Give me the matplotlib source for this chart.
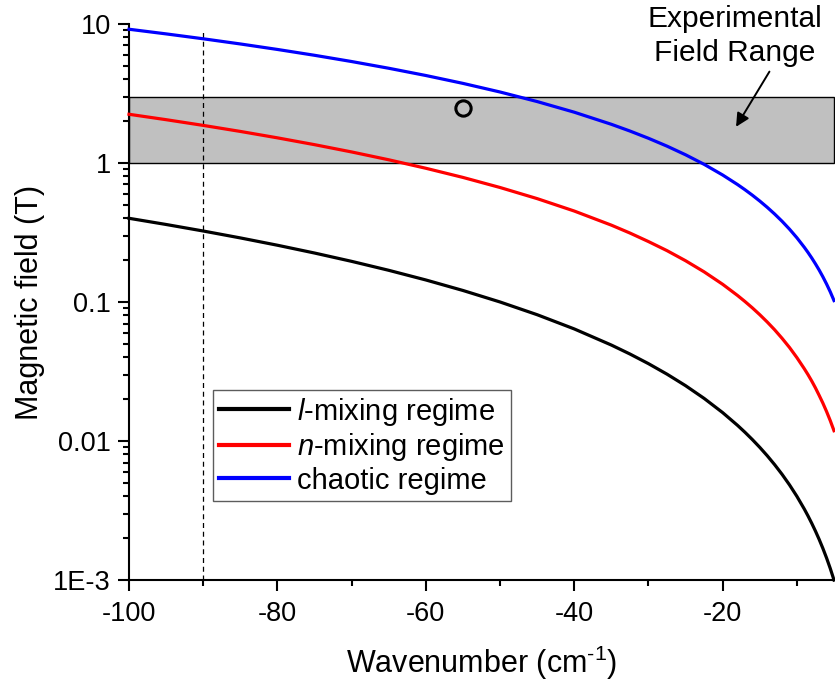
import matplotlib
matplotlib.use("Agg")
import matplotlib.pyplot as plt
from matplotlib.patches import Rectangle
from matplotlib.ticker import FixedLocator, LogLocator, FuncFormatter, MultipleLocator

plt.rcParams['font.family'] = ['Liberation Sans', 'DejaVu Sans']
plt.rcParams['mathtext.fontset'] = 'custom'
plt.rcParams['mathtext.rm'] = 'Liberation Sans'
plt.rcParams['mathtext.it'] = 'Liberation Sans:italic'
plt.rcParams['axes.unicode_minus'] = False

# Data
wavenumber = [-100, -95, -90, -85, -80, -75, -70, -65, -60, -55, -50, -45, -40, -35,
              -32.5, -30, -27.5, -25, -22.5, -20, -18, -17, -16, -15, -14, -13, -12,
              -11, -10, -9, -8.5, -8, -7.5, -7, -6.5, -6, -5.5, -5]
l_mixing = [0.400, 0.361, 0.324, 0.289, 0.256, 0.225, 0.196, 0.169, 0.144, 0.121,
            0.100, 0.081, 0.064, 0.049, 0.04225, 0.036, 0.03025, 0.025, 0.02025, 0.016,
            0.01296, 0.01156, 0.01024, 0.0090, 0.00784, 0.00676, 0.00576, 0.00484,
            0.0040, 0.00324, 0.00289, 0.00256, 0.00225, 0.00196, 0.00169, 0.00144,
            0.00121, 0.0010]
n_mixing = [2.240, 2.048, 1.863, 1.686, 1.516, 1.354, 1.200, 1.054, 0.916, 0.787,
            0.666, 0.554, 0.451, 0.357, 0.3133, 0.272, 0.2340, 0.198, 0.1647, 0.134,
            0.1114, 0.1008, 0.0907, 0.0810, 0.0718, 0.0631, 0.0548, 0.0471, 0.0398,
            0.0331, 0.0300, 0.0270, 0.0241, 0.0213, 0.01874, 0.01629, 0.0140, 0.01186]
chaotic = [9.160, 8.481, 7.821, 7.178, 6.554, 5.950, 5.365, 4.800, 4.257, 3.736,
           3.239, 2.765, 2.318, 1.897, 1.697, 1.505, 1.321, 1.145, 0.9776, 0.819,
           0.6995, 0.6421, 0.5863, 0.5321, 0.4798, 0.4293, 0.3808, 0.3342, 0.2897,
           0.2473, 0.2270, 0.2073, 0.1881, 0.1697, 0.1518, 0.1346, 0.1182, 0.1024]
series_labels = [r'$l$-mixing regime', r'$n$-mixing regime', 'chaotic regime']
series_colors = ['black', '#ff0000', '#0000ff']

band_low, band_high = 1.0, 3.0
exp_point_x, exp_point_y = [-55], [2.47]
dashed_x = -90
ytick_vals = [1e-3, 1e-2, 1e-1, 1, 10]
ytick_labels = ['1E-3', '0.01', '0.1', '1', '10']

fig = plt.figure(figsize=(8.35, 6.84), dpi=100)
ax = fig.add_axes([0.1545, 0.152, 0.8443, 0.813])

ax.set_yscale('log')
ax.set_xlim(-100, -5)
ax.set_ylim(1e-3, 10)

ax.add_patch(Rectangle((-100, band_low), 95, band_high - band_low,
                       facecolor='#c0c0c0', edgecolor='black', lw=1.0, zorder=1,
                       clip_on=False))
ax.axvline(dashed_x, ymin=0, ymax=0.99, color='black', lw=0.9, ls=(0, (4, 3)), zorder=2)

for ys, lab, col in zip([l_mixing, n_mixing, chaotic], series_labels, series_colors):
    ax.plot(wavenumber, ys, color=col, lw=2.3, label=lab, zorder=3, clip_on=False)

ax.plot(exp_point_x, exp_point_y, 'o', ms=11, mfc='none', mec='black', mew=2.2, zorder=4)

ax.text(-18.4, 8.2, 'Experimental\nField Range', ha='center', va='center',
        fontsize=21.5, linespacing=1.25, clip_on=False)
ax.annotate('', xy=(-18.2, 1.82), xytext=(-13.7, 4.54),
            arrowprops=dict(arrowstyle='-|>', color='black', lw=1.4,
                            mutation_scale=20, shrinkA=0, shrinkB=0))

for s in ['top', 'right']:
    ax.spines[s].set_visible(False)
for s in ['left', 'bottom']:
    ax.spines[s].set_linewidth(1.5)

ax.yaxis.set_major_locator(FixedLocator(ytick_vals))
ax.yaxis.set_major_formatter(FuncFormatter(lambda v, p: dict(zip(ytick_vals, ytick_labels)).get(v, '')))
ax.yaxis.set_minor_locator(LogLocator(base=10, subs=range(2, 10)))
ax.yaxis.set_minor_formatter(FuncFormatter(lambda v, p: ''))
ax.xaxis.set_major_locator(MultipleLocator(20))
ax.xaxis.set_minor_locator(MultipleLocator(10))

ax.tick_params(which='major', direction='out', length=8, width=1.5, labelsize=19.5)
ax.tick_params(axis='x', which='major', pad=7)
ax.tick_params(axis='y', which='major', pad=5)
ax.tick_params(which='minor', direction='out', length=4.5, width=1.5)

ax.set_xlabel(r'Wavenumber (cm$^{\text{-1}}$)', fontsize=22, labelpad=12)
ax.set_ylabel('Magnetic field (T)', fontsize=22, labelpad=6)

leg = ax.legend(loc='upper left', bbox_to_anchor=(0.119, 0.342), fontsize=21,
                frameon=True, fancybox=False, handlelength=2.4, handletextpad=0.3,
                labelspacing=0.12, borderpad=0.2, borderaxespad=0)
leg.get_frame().set_edgecolor('#333333')
leg.get_frame().set_linewidth(1.0)
for line in leg.get_lines():
    line.set_linewidth(3.0)

fig.savefig('out.png', dpi=100)
